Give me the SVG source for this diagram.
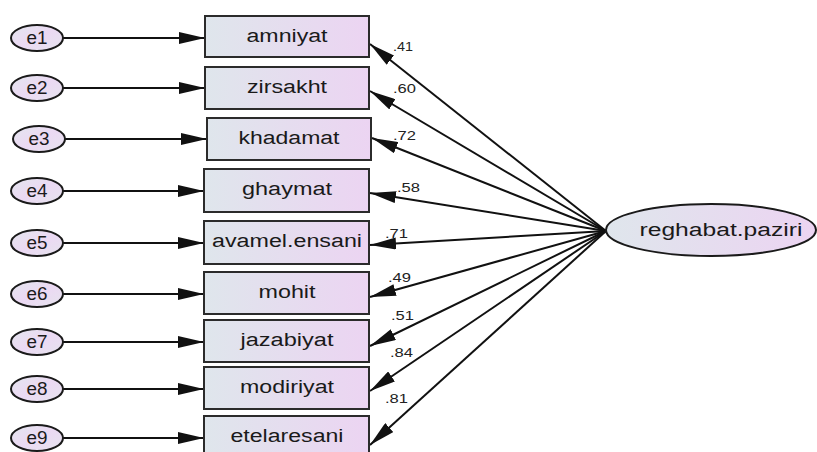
<svg xmlns="http://www.w3.org/2000/svg" width="817" height="452" viewBox="0 0 817 452">
<defs>
<linearGradient id="gBox" x1="0" y1="0" x2="1" y2="0">
<stop offset="0" stop-color="#dfe6ec"/>
<stop offset="1" stop-color="#ecd4f2"/>
</linearGradient>
<linearGradient id="gErr" x1="0" y1="0" x2="1" y2="1">
<stop offset="0" stop-color="#e4e6ee"/>
<stop offset="0.5" stop-color="#ebd9f3"/>
<stop offset="1" stop-color="#e6e4ee"/>
</linearGradient>
<marker id="arr" markerUnits="userSpaceOnUse" markerWidth="26" markerHeight="12" refX="26" refY="6" orient="auto">
<path d="M0,0 L26,6 L0,12 z" fill="#111"/>
</marker>
<style>
.box{fill:url(#gBox);stroke:#2b2b2b;stroke-width:2}
.err{fill:url(#gErr);stroke:#1a1a1a;stroke-width:2}
.lat{fill:url(#gBox);stroke:#1a1a1a;stroke-width:2}
.lbl{font-family:"Liberation Sans",Arial,sans-serif;font-size:18px;fill:#1a1a1a;text-anchor:middle}
.elbl{font-family:"Liberation Sans",Arial,sans-serif;font-size:18px;fill:#1a1a1a;text-anchor:middle}
.coef{font-family:"Liberation Sans",Arial,sans-serif;font-size:12px;fill:#222}
.cn line{stroke:#111;stroke-width:2;marker-end:url(#arr)}
</style>
</defs>
<g id="connectors" class="cn">
<line x1="63" y1="38" x2="205" y2="38"/>
<line x1="63" y1="88" x2="205" y2="88"/>
<line x1="65" y1="139" x2="207" y2="139"/>
<line x1="63" y1="191" x2="204" y2="191"/>
<line x1="63" y1="243" x2="204" y2="243"/>
<line x1="63" y1="294" x2="204" y2="294"/>
<line x1="63" y1="342" x2="204" y2="342"/>
<line x1="63" y1="389" x2="204" y2="389"/>
<line x1="63" y1="438" x2="204" y2="438"/>
<line x1="606" y1="231" x2="370" y2="44"/>
<line x1="606" y1="231" x2="370" y2="91"/>
<line x1="606" y1="231" x2="372" y2="138"/>
<line x1="606" y1="231" x2="370" y2="193"/>
<line x1="606" y1="231" x2="370" y2="245"/>
<line x1="606" y1="231" x2="370" y2="297"/>
<line x1="606" y1="231" x2="370" y2="346"/>
<line x1="606" y1="231" x2="370" y2="391"/>
<line x1="606" y1="231" x2="370" y2="445"/>
</g>
<g id="coefficients">
<text class="coef" x="393" y="51" textLength="20" lengthAdjust="spacingAndGlyphs">.41</text>
<text class="coef" x="393" y="93" textLength="23" lengthAdjust="spacingAndGlyphs">.60</text>
<text class="coef" x="393" y="140" textLength="23" lengthAdjust="spacingAndGlyphs">.72</text>
<text class="coef" x="397" y="192" textLength="23" lengthAdjust="spacingAndGlyphs">.58</text>
<text class="coef" x="385" y="238" textLength="23" lengthAdjust="spacingAndGlyphs">.71</text>
<text class="coef" x="388" y="282" textLength="23" lengthAdjust="spacingAndGlyphs">.49</text>
<text class="coef" x="391" y="320" textLength="23" lengthAdjust="spacingAndGlyphs">.51</text>
<text class="coef" x="390" y="357" textLength="23" lengthAdjust="spacingAndGlyphs">.84</text>
<text class="coef" x="385" y="403" textLength="23" lengthAdjust="spacingAndGlyphs">.81</text>
</g>
<g id="e1"><ellipse class="err" cx="37" cy="38" rx="26" ry="13"/><text class="elbl" x="37" y="44" textLength="21" lengthAdjust="spacingAndGlyphs">e1</text></g>
<g id="e2"><ellipse class="err" cx="37" cy="88" rx="26" ry="13"/><text class="elbl" x="37" y="94" textLength="21" lengthAdjust="spacingAndGlyphs">e2</text></g>
<g id="e3"><ellipse class="err" cx="39" cy="139" rx="26" ry="13"/><text class="elbl" x="39" y="145" textLength="21" lengthAdjust="spacingAndGlyphs">e3</text></g>
<g id="e4"><ellipse class="err" cx="37" cy="191" rx="26" ry="13"/><text class="elbl" x="37" y="197" textLength="21" lengthAdjust="spacingAndGlyphs">e4</text></g>
<g id="e5"><ellipse class="err" cx="37" cy="243" rx="26" ry="13"/><text class="elbl" x="37" y="249" textLength="21" lengthAdjust="spacingAndGlyphs">e5</text></g>
<g id="e6"><ellipse class="err" cx="37" cy="294" rx="26" ry="13"/><text class="elbl" x="37" y="300" textLength="21" lengthAdjust="spacingAndGlyphs">e6</text></g>
<g id="e7"><ellipse class="err" cx="37" cy="342" rx="26" ry="13"/><text class="elbl" x="37" y="348" textLength="21" lengthAdjust="spacingAndGlyphs">e7</text></g>
<g id="e8"><ellipse class="err" cx="37" cy="389" rx="26" ry="13"/><text class="elbl" x="37" y="395" textLength="21" lengthAdjust="spacingAndGlyphs">e8</text></g>
<g id="e9"><ellipse class="err" cx="37" cy="438" rx="26" ry="13"/><text class="elbl" x="37" y="444" textLength="21" lengthAdjust="spacingAndGlyphs">e9</text></g>
<g id="amniyat"><rect class="box" x="205" y="16" width="164" height="41"/><text class="lbl" x="287" y="42" textLength="81" lengthAdjust="spacingAndGlyphs">amniyat</text></g>
<g id="zirsakht"><rect class="box" x="205" y="67" width="164" height="42"/><text class="lbl" x="287" y="93" textLength="80" lengthAdjust="spacingAndGlyphs">zirsakht</text></g>
<g id="khadamat"><rect class="box" x="207" y="118" width="164" height="42"/><text class="lbl" x="289" y="144" textLength="101" lengthAdjust="spacingAndGlyphs">khadamat</text></g>
<g id="ghaymat"><rect class="box" x="204" y="169" width="165" height="43"/><text class="lbl" x="287" y="195" textLength="90" lengthAdjust="spacingAndGlyphs">ghaymat</text></g>
<g id="avamel.ensani"><rect class="box" x="204" y="221" width="165" height="43"/><text class="lbl" x="287" y="247" textLength="150" lengthAdjust="spacingAndGlyphs">avamel.ensani</text></g>
<g id="mohit"><rect class="box" x="204" y="272" width="165" height="42"/><text class="lbl" x="287" y="298" textLength="57" lengthAdjust="spacingAndGlyphs">mohit</text></g>
<g id="jazabiyat"><rect class="box" x="204" y="320" width="165" height="42"/><text class="lbl" x="287" y="346" textLength="93" lengthAdjust="spacingAndGlyphs">jazabiyat</text></g>
<g id="modiriyat"><rect class="box" x="204" y="367" width="165" height="42"/><text class="lbl" x="287" y="393" textLength="94" lengthAdjust="spacingAndGlyphs">modiriyat</text></g>
<g id="etelaresani"><rect class="box" x="204" y="416" width="165" height="42"/><text class="lbl" x="287" y="442" textLength="113" lengthAdjust="spacingAndGlyphs">etelaresani</text></g>
<g id="reghabat.paziri"><ellipse class="lat" cx="711" cy="230" rx="105" ry="26"/><text class="lbl" x="721" y="236" textLength="163" lengthAdjust="spacingAndGlyphs">reghabat.paziri</text></g>
</svg>
